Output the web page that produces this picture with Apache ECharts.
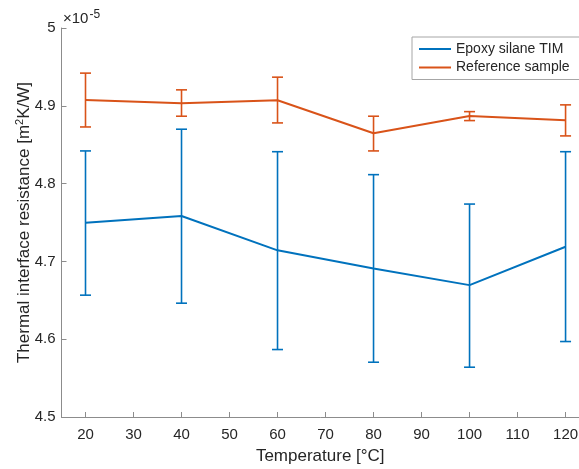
<!DOCTYPE html>
<html>
<head>
<meta charset="utf-8">
<script src="https://cdn.jsdelivr.net/npm/echarts@6/dist/echarts.min.js"></script>
<style>
  html, body { margin: 0; padding: 0; background: #fff; }
  #chart { width: 579px; height: 469px; }
</style>
</head>
<body>
<div id="chart"></div>
<script>
// temperatures [°C]
var temps = [20, 40, 60, 80, 100, 120];
var xTicks = [20, 30, 40, 50, 60, 70, 80, 90, 100, 110, 120];

// thermal interface resistance, in units of 1e-5 m^2K/W
var epoxyMean = [4.7497, 4.7583, 4.7142, 4.6910, 4.6695, 4.7188];
var epoxyLow  = [4.6566, 4.6463, 4.5867, 4.5704, 4.5640, 4.5970];
var epoxyHigh = [4.8420, 4.8699, 4.8410, 4.8115, 4.7737, 4.8410];

var refMean = [4.9076, 4.9033, 4.9072, 4.8647, 4.8870, 4.8815];
var refLow  = [4.8728, 4.8866, 4.8780, 4.8420, 4.8810, 4.8613];
var refHigh = [4.9420, 4.9205, 4.9368, 4.8866, 4.8925, 4.9012];

var BLUE = '#0072BD';
var ORANGE = '#D95319';
var TEXT = '#262626';
var AXIS = '#8c8c8c';
var FONT = 'Liberation Sans, Arial, sans-serif';

function pairs(xs, ys) {
  return xs.map(function (x, i) { return [x, ys[i]]; });
}
function bars(xs, lo, hi) {
  return xs.map(function (x, i) { return [x, lo[i], hi[i]]; });
}

function errorBarRender(color) {
  return function (params, api) {
    var x = api.value(0);
    var lo = api.coord([x, api.value(1)]);
    var hi = api.coord([x, api.value(2)]);
    var half = 5.5;
    var style = { stroke: color, lineWidth: 1.6 };
    return {
      type: 'group',
      children: [
        { type: 'line', shape: { x1: lo[0], y1: lo[1], x2: hi[0], y2: hi[1] }, style: style },
        { type: 'line', shape: { x1: hi[0] - half, y1: hi[1], x2: hi[0] + half, y2: hi[1] }, style: style },
        { type: 'line', shape: { x1: lo[0] - half, y1: lo[1], x2: lo[0] + half, y2: lo[1] }, style: style }
      ]
    };
  };
}

var chart = echarts.init(document.getElementById('chart'));

chart.setOption({
  animation: false,
  textStyle: { fontFamily: FONT },
  grid: { left: 61.5, top: 28, right: 0, bottom: 52, containLabel: false, outerBoundsMode: 'none' },
  legend: {
    orient: 'vertical',
    left: 412,
    top: 37,
    padding: [5, 20, 5, 6],
    itemGap: 4.5,
    itemWidth: 32,
    itemHeight: 14,
    itemStyle: { opacity: 0 },
    borderColor: '#a6a6a6',
    borderWidth: 1,
    backgroundColor: '#fff',
    textStyle: { fontSize: 14, color: TEXT, fontFamily: FONT },
    data: ['Epoxy silane TIM', 'Reference sample']
  },
  xAxis: {
    type: 'value',
    min: 15,
    max: 122.8,
    name: 'Temperature [°C]',
    nameLocation: 'middle',
    nameGap: 31,
    nameMoveOverlap: false,
    nameTextStyle: { fontSize: 17, color: TEXT },
    axisLine: { lineStyle: { color: AXIS, width: 1 } },
    axisTick: { inside: true, length: 5, customValues: xTicks, lineStyle: { color: AXIS } },
    axisLabel: { customValues: xTicks, fontSize: 15, color: TEXT, margin: 10 },
    splitLine: { show: false }
  },
  yAxis: {
    type: 'value',
    min: 4.5,
    max: 5,
    interval: 0.1,
    name: 'Thermal interface resistance [m{sup|2}K/W]',
    nameLocation: 'middle',
    nameGap: 28,
    nameMoveOverlap: false,
    nameTextStyle: {
      fontSize: 17,
      color: TEXT,
      rich: { sup: { fontSize: 11, verticalAlign: 'top', padding: [0, 0, 8, 0], color: TEXT } }
    },
    axisLine: { show: true, lineStyle: { color: AXIS, width: 1 } },
    axisTick: { show: true, inside: true, length: 5, lineStyle: { color: AXIS } },
    axisLabel: { fontSize: 15, color: TEXT, margin: 6 },
    splitLine: { show: false }
  },
  graphic: [{
    type: 'text',
    left: 63,
    top: 9,
    style: {
      text: '×10{sup|-5}',
      font: '15px ' + FONT,
      fill: TEXT,
      rich: { sup: { fontSize: 12, verticalAlign: 'top', padding: [0, 0, 8, 1], fill: TEXT } }
    }
  }],
  series: [
    {
      name: 'Epoxy silane TIM',
      type: 'line',
      symbol: 'none',
      color: BLUE,
      lineStyle: { color: BLUE, width: 2 },
      data: pairs(temps, epoxyMean),
      z: 3
    },
    {
      name: 'epoxy-err',
      type: 'custom',
      renderItem: errorBarRender(BLUE),
      encode: { x: 0, y: [1, 2] },
      data: bars(temps, epoxyLow, epoxyHigh),
      z: 3
    },
    {
      name: 'Reference sample',
      type: 'line',
      symbol: 'none',
      color: ORANGE,
      lineStyle: { color: ORANGE, width: 2 },
      data: pairs(temps, refMean),
      z: 4
    },
    {
      name: 'ref-err',
      type: 'custom',
      renderItem: errorBarRender(ORANGE),
      encode: { x: 0, y: [1, 2] },
      data: bars(temps, refLow, refHigh),
      z: 4
    }
  ]
});
</script>
</body>
</html>
